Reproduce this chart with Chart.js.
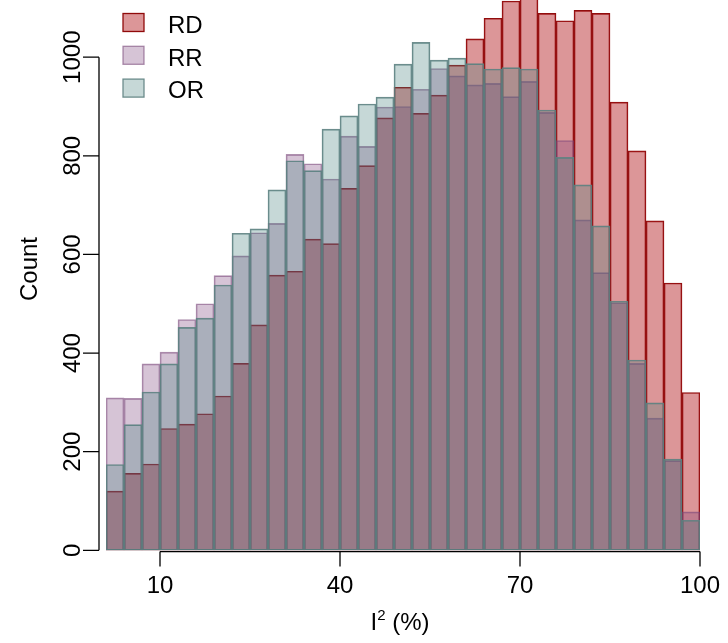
<!DOCTYPE html>
<html>
<head>
<meta charset="utf-8">
<script src="https://cdn.jsdelivr.net/npm/chart.js@4/dist/chart.umd.min.js"></script>
<style>
    html, body { margin: 0; padding: 0; background: #fff; }
    #wrap { width: 728px; height: 643px; position: relative; }
</style>
</head>
<body>
<div id="wrap"><canvas id="chart"></canvas></div>
<script>
// ============================================
// Data (I² histogram, bins of width 3 from 1 to 100)
// ============================================

const binLabels = [
    '1-4', '4-7', '7-10', '10-13', '13-16', '16-19', '19-22', '22-25', '25-28', '28-31', '31-34',
    '34-37', '37-40', '40-43', '43-46', '46-49', '49-52', '52-55', '55-58', '58-61', '61-64', '64-67',
    '67-70', '70-73', '73-76', '76-79', '79-82', '82-85', '85-88', '88-91', '91-94', '94-97', '97-100'
];

const rdCounts = [
    120, 156, 175, 247, 256, 277, 313, 379, 457, 558, 566,
    631, 622, 734, 780, 877, 939, 886, 923, 984, 1037, 1079,
    1114, 1125, 1089, 1074, 1095, 1089, 909, 810, 668, 542, 320
];

const rrCounts = [
    309, 308, 378, 402, 468, 500, 557, 597, 644, 663, 803,
    784, 753, 840, 819, 899, 900, 935, 977, 962, 944, 947,
    920, 951, 888, 831, 670, 563, 502, 379, 268, 182, 78
];

const orCounts = [
    174, 255, 321, 378, 452, 471, 538, 643, 652, 731, 790,
    770, 854, 881, 905, 919, 986, 1030, 994, 998, 987, 976,
    979, 976, 893, 797, 741, 658, 505, 386, 299, 185, 61
];

const seriesNames = ['RD', 'RR', 'OR'];
const xTicks = [10, 40, 70, 100];
const yTicks = [0, 200, 400, 600, 800, 1000];

// ============================================
// Styling
// ============================================

const FONT = '"Liberation Sans", Arial, Helvetica, sans-serif';

const fills = {
    RD: 'rgba(185, 45, 50, 0.5)',
    RR: 'rgba(118, 60, 118, 0.3)',
    OR: 'rgba(65, 125, 122, 0.3)'
};

const borders = {
    RD: 'rgba(139, 0, 0, 0.95)',
    RR: 'rgba(120, 70, 120, 0.6)',
    OR: 'rgba(95, 130, 130, 0.9)'
};

// ============================================
// R-style axes, titles and legend
// ============================================

const rAxes = {
    id: 'rAxes',
    afterDraw(chart) {
        const ctx = chart.ctx;
        const y = chart.scales.y;
        const xv = chart.scales.xv;

        ctx.save();
        ctx.strokeStyle = '#000';
        ctx.fillStyle = '#000';
        ctx.lineWidth = 1.3;

        // y axis
        const axX = 99;
        ctx.beginPath();
        ctx.moveTo(axX, y.getPixelForValue(yTicks[0]));
        ctx.lineTo(axX, y.getPixelForValue(yTicks[yTicks.length - 1]));
        yTicks.forEach(v => {
            const py = y.getPixelForValue(v);
            ctx.moveTo(axX, py);
            ctx.lineTo(axX - 16, py);
        });
        ctx.stroke();

        ctx.font = '24px ' + FONT;
        ctx.textAlign = 'center';
        ctx.textBaseline = 'alphabetic';
        yTicks.forEach(v => {
            ctx.save();
            ctx.translate(80, y.getPixelForValue(v));
            ctx.rotate(-Math.PI / 2);
            ctx.fillText(String(v), 0, 0);
            ctx.restore();
        });

        // x axis
        const axY = y.getPixelForValue(0) + 1.3;
        ctx.beginPath();
        ctx.moveTo(xv.getPixelForValue(xTicks[0]), axY);
        ctx.lineTo(xv.getPixelForValue(xTicks[xTicks.length - 1]), axY);
        xTicks.forEach(v => {
            const px = xv.getPixelForValue(v);
            ctx.moveTo(px, axY);
            ctx.lineTo(px, axY + 15);
        });
        ctx.stroke();

        xTicks.forEach(v => {
            ctx.fillText(String(v), xv.getPixelForValue(v), 593);
        });

        // axis titles
        ctx.save();
        ctx.translate(36.5, 269);
        ctx.rotate(-Math.PI / 2);
        ctx.fillText('Count', 0, 0);
        ctx.restore();

        const big = '24px ' + FONT;
        const small = '15px ' + FONT;
        ctx.font = big;
        const wI = ctx.measureText('I').width;
        const wRest = ctx.measureText(' (%)').width;
        ctx.font = small;
        const w2 = ctx.measureText('2').width;
        let tx = 400 - (wI + w2 + wRest) / 2;
        ctx.textAlign = 'left';
        ctx.font = big;
        ctx.fillText('I', tx, 630);
        tx += wI;
        ctx.font = small;
        ctx.fillText('2', tx, 620);
        tx += w2;
        ctx.font = big;
        ctx.fillText(' (%)', tx, 630);

        // legend
        ctx.lineWidth = 1.3;
        seriesNames.forEach((name, i) => {
            const top = 13.5 + i * 32.8;
            ctx.fillStyle = fills[name];
            ctx.fillRect(123, top, 21, 18);
            ctx.strokeStyle = borders[name];
            ctx.strokeRect(123, top, 21, 18);
            ctx.fillStyle = '#000';
            ctx.fillText(name, 168, top + 19.3);
        });

        ctx.restore();
    }
};

// ============================================
// Chart
// ============================================

const countsBySeries = { RD: rdCounts, RR: rrCounts, OR: orCounts };
const drawOrder = { RD: 3, RR: 2, OR: 1 };

new Chart(document.getElementById('chart'), {
    type: 'bar',
    data: {
        labels: binLabels,
        datasets: seriesNames.map(name => ({
            label: name,
            data: countsBySeries[name],
            backgroundColor: fills[name],
            borderColor: borders[name],
            borderWidth: 1,
            borderSkipped: false,
            grouped: false,
            barPercentage: 1,
            categoryPercentage: 1,
            order: drawOrder[name]
        }))
    },
    options: {
        responsive: true,
        maintainAspectRatio: false,
        animation: false,
        layout: { padding: { left: 106, right: 28, top: 0, bottom: 92.7 } },
        plugins: { legend: { display: false }, tooltip: { enabled: false } },
        scales: {
            x: { type: 'category', display: false, offset: true },
            xv: { type: 'linear', position: 'bottom', display: false, offset: false, min: 1, max: 100 },
            y: { display: false, min: 0, max: 1116 }
        }
    },
    plugins: [rAxes]
});
</script>
</body>
</html>
